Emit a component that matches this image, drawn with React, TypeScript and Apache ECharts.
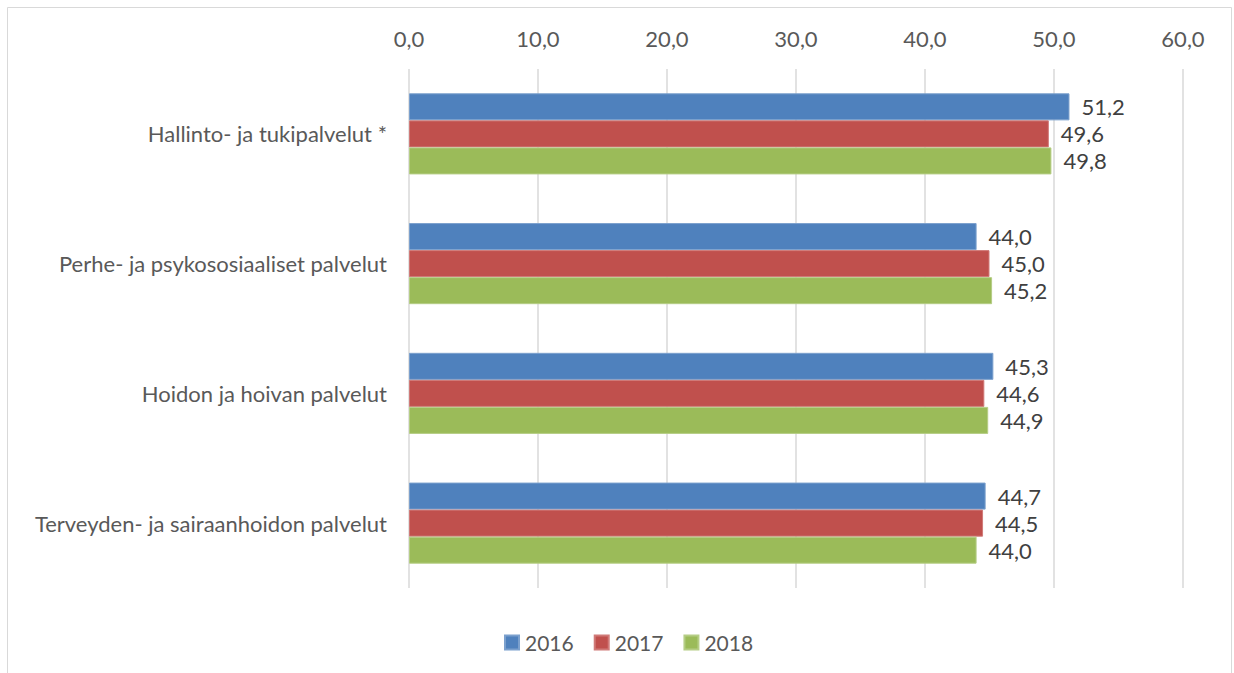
import React, { useEffect, useRef } from "react";
import * as echarts from "echarts";

const categories = [
  "Hallinto- ja tukipalvelut *",
  "Perhe- ja psykososiaaliset palvelut",
  "Hoidon ja hoivan palvelut",
  "Terveyden- ja sairaanhoidon palvelut",
];
const years = ["2016", "2017", "2018"];
const values2016 = [51.2, 44.0, 45.3, 44.7];
const values2017 = [49.6, 45.0, 44.6, 44.5];
const values2018 = [49.8, 45.2, 44.9, 44.0];
const colors = ["#4F81BD", "#C0504D", "#9BBB59"];
const borderColors = ["#7BA0CD", "#D07A78", "#B5CD85"];

const FONT = "Lato";
const FS = 22;
const fmt = (v: number) => v.toFixed(1).replace(".", ",");

export default function App() {
  const ref = useRef<HTMLDivElement>(null);
  useEffect(() => {
    if (!ref.current) return;
    const chart = echarts.init(ref.current, undefined, { renderer: "svg" });
    const seriesData = [values2016, values2017, values2018];
    chart.setOption({
      animation: false,
      textStyle: { fontFamily: FONT },
      graphic: [
        {
          type: "rect",
          shape: { x: 7.5, y: 7.5, width: 1224, height: 720 },
          style: { fill: "none", stroke: "#D9D9D9", lineWidth: 1 },
          silent: true,
        },
      ],
      grid: { left: 409, right: 51, top: 69, height: 519, containLabel: false },
      legend: {
        data: years,
        top: 627,
        left: 499,
        icon: "rect",
        itemWidth: 14,
        itemHeight: 14,
        itemGap: 20,
        textStyle: { fontFamily: FONT, fontSize: FS - 1, color: "#595959", padding: [0, 0, 0, 1] },
      },
      xAxis: {
        type: "value",
        position: "top",
        min: 0,
        max: 60,
        interval: 10,
        axisLine: { show: false },
        axisTick: { show: false },
        axisLabel: {
          formatter: (v: number) => fmt(v),
          fontFamily: FONT,
          fontSize: FS,
          color: "#595959",
          margin: 20,
        },
        splitLine: { show: true, lineStyle: { color: "#D9D9D9", width: 1.5 } },
      },
      yAxis: {
        type: "category",
        data: categories,
        inverse: true,
        axisLine: { show: false },
        axisTick: { show: false },
        axisLabel: {
          fontFamily: FONT,
          fontSize: FS,
          color: "#595959",
          margin: 22,
        },
      },
      series: years.map((y, i) => ({
        name: y,
        type: "bar",
        data: seriesData[i],
        barGap: "0%",
        barCategoryGap: "37.5%",
        itemStyle: { color: colors[i], borderColor: borderColors[i], borderWidth: 1 },
        label: {
          show: true,
          position: "right",
          distance: 12,
          formatter: (p: any) => fmt(p.value),
          fontFamily: FONT,
          fontSize: FS,
          color: "#404040",
        },
      })),
    });
    return () => chart.dispose();
  }, []);
  return (
    <div
      ref={ref}
      style={{ position: "fixed", left: 0, top: 0, width: 1234, height: 673, background: "#fff" }}
    />
  );
}
